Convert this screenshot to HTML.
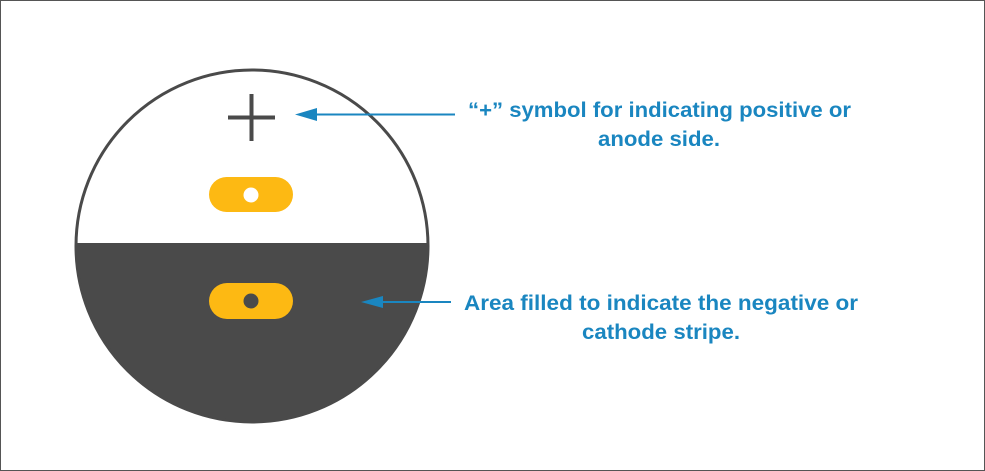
<!DOCTYPE html>
<html><head><style>html,body{margin:0;padding:0;background:#fff}svg{display:block}</style></head>
<body>
<svg width="985" height="471" viewBox="0 0 985 471" xmlns="http://www.w3.org/2000/svg">
<rect x="0.5" y="0.5" width="984" height="470" fill="#fff" stroke="#555" stroke-width="1"/>
<defs><clipPath id="c"><circle cx="252" cy="246" r="176"/></clipPath></defs>
<rect x="70" y="243" width="370" height="190" fill="#4a4a4a" clip-path="url(#c)"/>
<circle cx="252" cy="246" r="176" fill="none" stroke="#4a4a4a" stroke-width="3"/>
<rect x="249.5" y="94" width="4" height="47" fill="#4a4a4a"/>
<rect x="228" y="115.5" width="47" height="4" fill="#4a4a4a"/>
<rect x="209" y="177" width="84" height="35" rx="17.5" fill="#fdb913"/>
<circle cx="251" cy="195" r="7.5" fill="#fff"/>
<rect x="209" y="283" width="84" height="36" rx="18" fill="#fdb913"/>
<circle cx="251" cy="301" r="7.5" fill="#4a4a4a"/>
<line x1="310" y1="114.5" x2="455" y2="114.5" stroke="#1a86c0" stroke-width="2"/>
<polygon points="295,114.5 317,108 317,121" fill="#1a86c0"/>
<line x1="375" y1="302" x2="451" y2="302" stroke="#1a86c0" stroke-width="2"/>
<polygon points="361,302 383,296 383,308" fill="#1a86c0"/>
<g font-family="Liberation Sans, sans-serif" font-weight="bold" font-size="21" fill="#1a86c0" text-anchor="middle">
<text x="659.5" y="117" textLength="383" lengthAdjust="spacingAndGlyphs">“+” symbol for indicating positive or</text>
<text x="659" y="146" textLength="122" lengthAdjust="spacingAndGlyphs">anode side.</text>
<text x="661" y="310" textLength="394" lengthAdjust="spacingAndGlyphs">Area filled to indicate the negative or</text>
<text x="661" y="339" textLength="158" lengthAdjust="spacingAndGlyphs">cathode stripe.</text>
</g>
</svg>
</body></html>
